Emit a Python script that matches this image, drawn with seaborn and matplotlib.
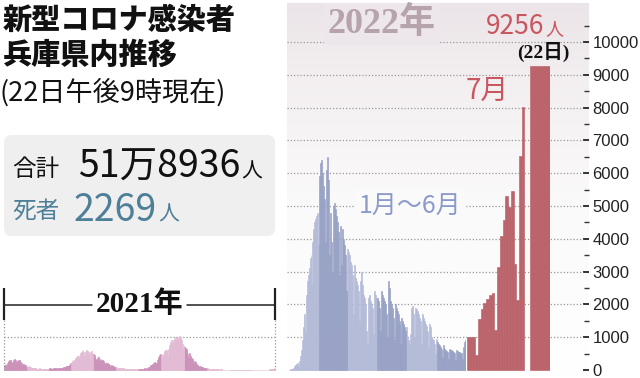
import numpy as np
import pandas as pd
import matplotlib
matplotlib.use("Agg")
import matplotlib.pyplot as plt
import seaborn as sns
from matplotlib.patches import FancyBboxPatch
from matplotlib.colors import LinearSegmentedColormap

# ---------------- data ----------------
cases_2021 = {
    1: [150,180,160,140,200,230,280,300,310,260, 220,250,300,320,330,300,250,200,280,300, 290,260,240,200,150,180,170,160,150,120, 100],
    2: [90,110,100,90,80,70,50,60,70,60, 55,50,45,40,35,45,50,45,40,38, 30,35,40,38,35,33,30,28],
    3: [40,45,50,48,45,40,35,50,55,60, 58,55,52,45,55,60,65,70,75,70, 60,80,90,100,110,120,130,110,140,160, 200],
    4: [220,250,280,300,250,330,370,400,420,450, 440,350,480,530,560,580,600,560,420,550, 600,620,590,560,480,400,550,580,520,500],
    5: [480,450,400,350,300,380,420,400,350,260, 330,320,300,280,260,220,170,230,220,200, 190,170,150,110,140,130,120,110,100,80, 70],
    6: [80,75,70,65,60,50,40,50,55,50, 45,40,35,30,40,42,40,38,35,30, 25,35,38,36,34,32,28,25,30,32],
    7: [30,35,33,30,25,35,40,45,50,48, 40,35,60,80,100,120,150,140,110,170, 200,230,250,220,200,300,350,400,450,480, 470],
    8: [450,400,500,550,580,600,620,550,450,650, 750,800,850,900,820,700,900,950,1000,1050, 1020,950,850,1000,1050,1000,980,900,800,650, 750],
    9: [700,680,650,600,500,380,520,480,420,380, 330,280,200,260,240,220,190,160,120,100, 90,110,100,90,80,70,45,60,55,50],
    10: [55,50,40,35,45,40,35,30,28,25, 20,25,24,22,20,18,15,14,18,17, 16,15,14,12,10,12,11,10,10,9, 8],
    11: [8,7,6,8,9,7,5,6,8,7, 6,5,7,8,6,5,4,6,7,8, 6,5,7,8,9,6,5,7,8,9],
    12: [10,8,7,9,10,8,6,7,9,10, 8,7,9,10,12,11,9,10,12,14, 12,11,15,18,16,14,20,25,30,45, 60],
}
cases_2022 = {
    1: [15,20,25,40,70,110, 150,180,210,130,260,420,620, 900,1300,1700,1200,2300,2700,2900,
        3100,3400,3500,2600,3900,4300,4500, 4600,4700,4800,3800],
    2: [5900,6300,6400,6000,5600,5200,3900, 6100,6500,5800,3500,4800,3900,3000,
        5000,5100,4900,4700,4500,4200,2900, 4400,3200,4300,4000,3800,3500,2400],
    3: [3700,3600,3500,3300,3200,2900,1700, 3200,2900,2800,2700,2600,2400,1500,
        2700,3000,2600,2300,2200,2000,1200, 800,2200,2300,2100,2000,1900,1100, 2400,2300,2200],
    4: [2200,2100,1900,1200,2400,2300,2200, 2100,2000,1700,1000,2700,2500,2100,
        2000,1900,1600,900,2000,1900,1800, 1700,1500,1400,800,1600,1500,1400, 1300,1200],
    5: [1300,1000,900,800,1100,1900,1950, 1700,1000,1900,1850,1800,1700,1600,
        1500,800,1700,1600,1500,1400,1350, 1200,700,1400,1300,1000,950,900, 800,500,950],
    6: [850,800,750,700,650,400,750, 700,650,600,580,550,350,650,
        620,600,570,540,520,300,600, 580,560,550,530,520,330,700, 850,900],
}
cases_july = [1020,1010,1000,450,1550,1850,2050,2150,2300,2350,
              1220,3150,4090,4570,5320,4980,5460,3230,2120,6520, 8010]
peak_day = ["22日"]
peak_cases = [9256]
y_ticks = [0,1000,2000,3000,4000,5000,6000,7000,8000,9000,10000]
y_minor = [500,1500,2500,3500,4500,5500,6500,7500,8500,9500,10500]
total_text = "51万8936"
death_text = "2269"

days_in_month_2021 = [31,28,31,30,31,30,31,31,30,31,30,31]
days_in_month_2022 = [31,28,31,30,31,30]
for m, n in enumerate(days_in_month_2021, 1):
    assert len(cases_2021[m]) == n, (2021, m, len(cases_2021[m]))
for m, n in enumerate(days_in_month_2022, 1):
    assert len(cases_2022[m]) == n, (2022, m, len(cases_2022[m]))
assert len(cases_july) == 21

def frame(month_lists, dark_parity):
    rows = []
    for m, vals in month_lists.items():
        for d, v in enumerate(vals, 1):
            rows.append((f"{m}-{d}", v, "dark" if m % 2 == dark_parity else "light"))
    return pd.DataFrame(rows, columns=["day", "cases", "shade"])

df21 = frame(cases_2021, 1)
df22 = frame(cases_2022, 0)
dfjul = pd.DataFrame({"day": [f"7-{i+1}" for i in range(len(cases_july))], "cases": cases_july})
dfpk = pd.DataFrame({"day": peak_day, "cases": peak_cases})

# ---------------- style ----------------
sns.set_theme(style="white")
plt.rcParams["font.family"] = ["Noto Sans CJK JP", "DejaVu Sans"]
SERIF = ["Liberation Serif", "Noto Sans CJK JP"]
NARROW = ["Liberation Sans Narrow", "Liberation Sans", "DejaVu Sans"]

PINK = {"dark": "#d586bb", "light": "#e9b3d6"}
BLUE = {"dark": "#8f9ccd", "light": "#adb7de"}
RED = "#c9565f"

W, H = 640, 378
fig = plt.figure(figsize=(6.4, 3.78), dpi=100)
fig.patch.set_facecolor("white")

PX_PER_1000 = 32.8
BASE_Y = 370
TOP, BOT = 3, 375
Y0 = -(BOT - BASE_Y) / PX_PER_1000 * 1000
Y1 = (BASE_Y - TOP) / PX_PER_1000 * 1000

def rect(x0, x1, y0=TOP, y1=BOT):
    return [x0 / W, 1 - y1 / H, (x1 - x0) / W, (y1 - y0) / H]

# background panel for 2022 with right axis
ax_bg = fig.add_axes(rect(287, 589))
grad = np.linspace(0, 1, 256).reshape(-1, 1)
cmap = LinearSegmentedColormap.from_list(
    "bg", [(0, "#ffffff"), (0.45, "#fbfafb"), (0.8, "#f3eff1"), (1, "#ebe4e8")])
ax_bg.imshow(grad, extent=(0, 1, Y0, Y1), origin="lower", aspect="auto", cmap=cmap, zorder=0)
ax_bg.set_xlim(0, 1)
ax_bg.set_ylim(Y0, Y1)
ax_bg.hlines(y_ticks[1:], 0, 0.98, colors="#9a9a9a", linestyles=(0, (1, 1.6)), linewidth=0.9, zorder=1)
for s in ax_bg.spines.values():
    s.set_visible(False)
ax_bg.set_xticks([])
ax_bg.yaxis.tick_right()
ax_bg.set_yticks(y_ticks)
ax_bg.set_yticklabels([str(v) for v in y_ticks], fontsize=12, fontfamily=NARROW, color="#222222")
ax_bg.set_yticks(y_minor, minor=True)
ax_bg.tick_params(axis="y", which="major", direction="in", length=4.5, width=1.4, color="#333333", pad=2.5, right=True, left=False)
ax_bg.tick_params(axis="y", which="minor", direction="in", length=3.5, width=1.0, color="#333333", right=True, left=False)

def bars(ax, df, pal=None, color=None):
    if pal is not None:
        sns.barplot(data=df, x="day", y="cases", hue="shade", palette=pal, dodge=False,
                    width=1, linewidth=0, errorbar=None, legend=False, ax=ax)
    else:
        sns.barplot(data=df, x="day", y="cases", color=color, width=1, linewidth=0,
                    errorbar=None, ax=ax)
    for p in ax.patches:
        p.set_edgecolor(p.get_facecolor())
        p.set_linewidth(0.45)
    ax.set_xlim(-0.5, len(df) - 0.5)
    ax.set_ylim(Y0, Y1)
    ax.axis("off")

ax21 = fig.add_axes(rect(4, 275))
ax21.axhline(1000, color="#9a9a9a", linestyle=(0, (1, 1.6)), linewidth=0.9, zorder=0)
bars(ax21, df21, pal=PINK)

ax22 = fig.add_axes(rect(289, 466))
bars(ax22, df22, pal=BLUE)

axjul = fig.add_axes(rect(467, 524.5))
bars(axjul, dfjul, color=RED)

axpk = fig.add_axes(rect(530, 550))
bars(axpk, dfpk, color=RED)

# ---------------- overlay texts ----------------
ov = fig.add_axes([0, 0, 1, 1])
ov.set_xlim(0, W)
ov.set_ylim(H, 0)
ov.axis("off")

ov.text(3, 20, "新型コロナ感染者", fontsize=21, fontweight="heavy", va="center", ha="left", color="#111111")
ov.text(3, 55, "兵庫県内推移", fontsize=21, fontweight="heavy", va="center", ha="left", color="#111111")
ov.text(0, 93, "(22日午後9時現在)", fontsize=19.5, va="center", ha="left", color="#111111")

box = FancyBboxPatch((4, 135), 271, 101, boxstyle="round,pad=0,rounding_size=8",
                     fc="#efefef", ec="none")
ov.add_patch(box)
ov.text(12, 176, "合計", fontsize=17, va="baseline", ha="left", color="#111111")
ov.text(78, 178, total_text, fontsize=27, va="baseline", ha="left", color="#111111")
ov.text(241, 178, "人", fontsize=15, va="baseline", ha="left", color="#111111")
ov.text(12, 218, "死者", fontsize=17, va="baseline", ha="left", color="#4d7f98")
ov.text(74, 221, death_text, fontsize=27, va="baseline", ha="left", color="#4d7f98")
ov.text(158, 221, "人", fontsize=15, va="baseline", ha="left", color="#4d7f98")

# 2021 bracket
for x in (4, 275):
    ov.plot([x, x], [288, 320], color="#222222", lw=1.6, solid_capstyle="butt")
    ov.plot([x, x], [320, 370], color="#9a9a9a", lw=0.9, linestyle=(0, (1, 1.6)))
ov.plot([4, 92], [305, 305], color="#222222", lw=1.1)
ov.plot([187, 275], [305, 305], color="#222222", lw=1.1)
ov.text(139.5, 304, "2021年", fontsize=21, fontweight="bold", family=SERIF,
        ha="center", va="center", color="#111111")

# 2022 labels
ov.text(382, 24, "2022年", fontsize=26, fontweight="bold", family=SERIF, ha="center", va="center",
        color="#b6a3ac", bbox=dict(boxstyle="square,pad=0.1", fc="#ede7eb", ec="none"))
ov.text(410, 206, "1月～6月", fontsize=18, ha="center", va="center", color="#8c9acb",
        bbox=dict(boxstyle="square,pad=0.15", fc="#fbfafb", ec="none"))
ov.text(466, 91, "7月", fontsize=20, ha="left", va="center", color=RED)
ov.text(486, 34, "9256", fontsize=19, ha="left", va="baseline", color=RED)
ov.text(545, 34, "人", fontsize=13, ha="left", va="baseline", color=RED)
ov.text(543, 52, "(22日)", fontsize=14, fontweight="bold", family=SERIF, ha="center", va="center",
        color="#111111")

fig.savefig("out.png", dpi=100)
